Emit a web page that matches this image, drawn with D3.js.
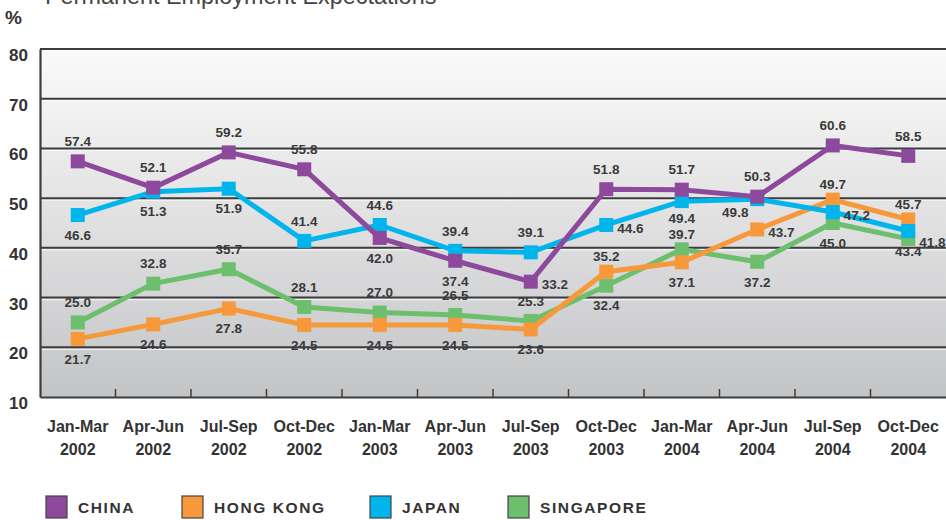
<!DOCTYPE html>
<html><head><meta charset="utf-8">
<script src="https://cdn.jsdelivr.net/npm/d3@7"></script>
<style>
html,body{margin:0;padding:0;background:#fff;}
svg{display:block;font-family:"Liberation Sans",Arial,Helvetica,sans-serif;}
</style></head>
<body><svg id="c" width="946" height="520"></svg>
<script>
const title = "Permanent Employment Expectations";
const unitLabel = "%";
const quartersTop = ["Jan-Mar","Apr-Jun","Jul-Sep","Oct-Dec","Jan-Mar","Apr-Jun","Jul-Sep","Oct-Dec","Jan-Mar","Apr-Jun","Jul-Sep","Oct-Dec"];
const quartersYear = ["2002","2002","2002","2002","2003","2003","2003","2003","2004","2004","2004","2004"];
const yTicks = [10,20,30,40,50,60,70,80];
const seriesNames = ["CHINA","HONG KONG","JAPAN","SINGAPORE"];
const china = [57.4,52.1,59.2,55.8,42.0,37.4,33.2,51.8,51.7,50.3,60.6,58.5];
const hongKong = [21.7,24.6,27.8,24.5,24.5,24.5,23.6,35.2,37.1,43.7,49.7,45.7];
const japan = [46.6,51.3,51.9,41.4,44.6,39.4,39.1,44.6,49.4,49.8,47.2,43.4];
const singapore = [25.0,32.8,35.7,28.1,27.0,26.5,25.3,32.4,39.7,37.2,45.0,41.8];
// label placement codes: a=above, b=below, as/bs=closer above/below, r=right, bl=below-left
const chinaPos = ['a','a','a','a','b','b','r','a','a','a','a','a'];
const hongKongPos = ['b','b','b','b','b','b','b','as','b','r','as','as'];
const japanPos = ['b','b','b','a','a','a','a','r','bs','bl','r','b'];
const singaporePos = ['a','a','a','a','a','a','a','b','as','b','b','r'];
const colors = ["#8d4a9c","#f7993b","#00b5ec","#6dbf6d"];

(function(){
const svg = d3.select("#c");
const pLeft = 40, pRight = 946, pTop = 49, pBottom = 397;
const keys = quartersTop.map((d,i)=>i);
const x = d3.scaleBand().domain(keys).range([pLeft,pRight]).padding(0);
const y = d3.scaleLinear().domain([10,80]).range([pBottom,pTop]);

const defs = svg.append("defs");
const grad = defs.append("linearGradient").attr("id","bg").attr("x1",0).attr("y1",0).attr("x2",0).attr("y2",1);
grad.append("stop").attr("offset","0%").attr("stop-color","#fafafa");
grad.append("stop").attr("offset","45%").attr("stop-color","#e3e3e4");
grad.append("stop").attr("offset","100%").attr("stop-color","#c3c4c6");

svg.append("rect").attr("x",pLeft).attr("y",pTop).attr("width",pRight-pLeft).attr("height",pBottom-pTop).attr("fill","url(#bg)");

// gridlines
const grid = svg.append("g");
yTicks.filter(v=>v>10).forEach(v=>{
  grid.append("line").attr("x1",pLeft).attr("x2",pRight).attr("y1",y(v)+2).attr("y2",y(v)+2)
    .attr("stroke","#ffffff").attr("stroke-opacity",0.7).attr("stroke-width",1.2);
  grid.append("line").attr("x1",pLeft).attr("x2",pRight).attr("y1",y(v)).attr("y2",y(v))
    .attr("stroke","#3d3d3d").attr("stroke-width",2);
});

// x axis
const xAxis = d3.axisBottom(x).tickSize(0).tickFormat("");
const gx = svg.append("g").attr("transform",`translate(0,${pBottom})`).call(xAxis);
gx.select(".domain").attr("stroke","#3d3d3d").attr("stroke-width",2.2);
svg.append("g").selectAll("line").data(keys.slice(1)).join("line")
  .attr("x1",d=>x(d)).attr("x2",d=>x(d)).attr("y1",pBottom).attr("y2",pBottom-8)
  .attr("stroke","#3d3d3d").attr("stroke-width",1.5);
// left axis
const yAxis = d3.axisLeft(y).tickValues(yTicks).tickSize(0).tickFormat(d3.format("d"));
const gy = svg.append("g").attr("transform",`translate(${pLeft},0)`).call(yAxis);
gy.select(".domain").attr("stroke","#3d3d3d").attr("stroke-width",2.2);
gy.selectAll("text").attr("x",-12).attr("dy","0.32em").attr("transform","translate(0,6)")
  .attr("font-size",17).attr("font-weight","bold").attr("fill","#333")
  .attr("font-family","'Liberation Sans',Arial,sans-serif");

// x labels
const xl = svg.append("g");
keys.forEach(i=>{
  const cx = x(i)+x.bandwidth()/2;
  xl.append("text").attr("x",cx).attr("y",432).attr("text-anchor","middle")
    .attr("font-size",16).attr("font-weight","bold").attr("fill","#333").text(quartersTop[i]);
  xl.append("text").attr("x",cx).attr("y",455).attr("text-anchor","middle")
    .attr("font-size",16).attr("font-weight","bold").attr("fill","#333").text(quartersYear[i]);
});

// title and unit
svg.append("text").attr("x",45).attr("y",4).attr("font-size",23.4).attr("fill","#444").text(title);
svg.append("text").attr("x",5).attr("y",24).attr("font-size",19).attr("font-weight","bold").attr("fill","#333").text(unitLabel);

// series
const series = [
  {name:seriesNames[3],values:singapore,pos:singaporePos,color:colors[3]},
  {name:seriesNames[1],values:hongKong,pos:hongKongPos,color:colors[1]},
  {name:seriesNames[2],values:japan,pos:japanPos,color:colors[2]},
  {name:seriesNames[0],values:china,pos:chinaPos,color:colors[0]}
];
const cxOf = i => x(i)+x.bandwidth()/2;
const line = d3.line().x((d,i)=>cxOf(i)).y(d=>y(d));
const ms = 14;
series.forEach(s=>{
  const g = svg.append("g");
  g.append("path").datum(s.values).attr("d",line).attr("fill","none")
    .attr("stroke",s.color).attr("stroke-width",5).attr("stroke-linejoin","miter");
  g.selectAll("rect").data(s.values).join("rect")
    .attr("x",(d,i)=>cxOf(i)-ms/2).attr("y",d=>y(d)-ms/2)
    .attr("width",ms).attr("height",ms).attr("fill",s.color);
});
// data labels
const offs = {a:[0,-20,"middle"], b:[0,20,"middle"], as:[0,-15,"middle"], bs:[0,17,"middle"],
              r:[11,3,"start"], bl:[-22,13,"middle"]};
const lab = svg.append("g");
series.forEach(s=>{
  s.values.forEach((v,i)=>{
    const o = offs[s.pos[i]];
    lab.append("text").attr("x",cxOf(i)+o[0]).attr("y",y(v)+o[1])
      .attr("dy","0.35em").attr("text-anchor",o[2])
      .attr("font-size",13.5).attr("font-weight","bold").attr("fill","#3a3a3a")
      .text(v.toFixed(1));
  });
});

// legend
const legendX = [46,182,370,508];
const lg = svg.append("g");
seriesNames.forEach((nm,j)=>{
  lg.append("rect").attr("x",legendX[j]).attr("y",496).attr("width",21).attr("height",22)
    .attr("fill",colors[j]).attr("stroke","#444").attr("stroke-width",1.2);
  lg.append("text").attr("x",legendX[j]+32).attr("y",513).attr("font-size",15.5)
    .attr("font-weight","bold").attr("letter-spacing","1.6px").attr("fill","#333").text(nm);
});
})();
</script></body></html>
